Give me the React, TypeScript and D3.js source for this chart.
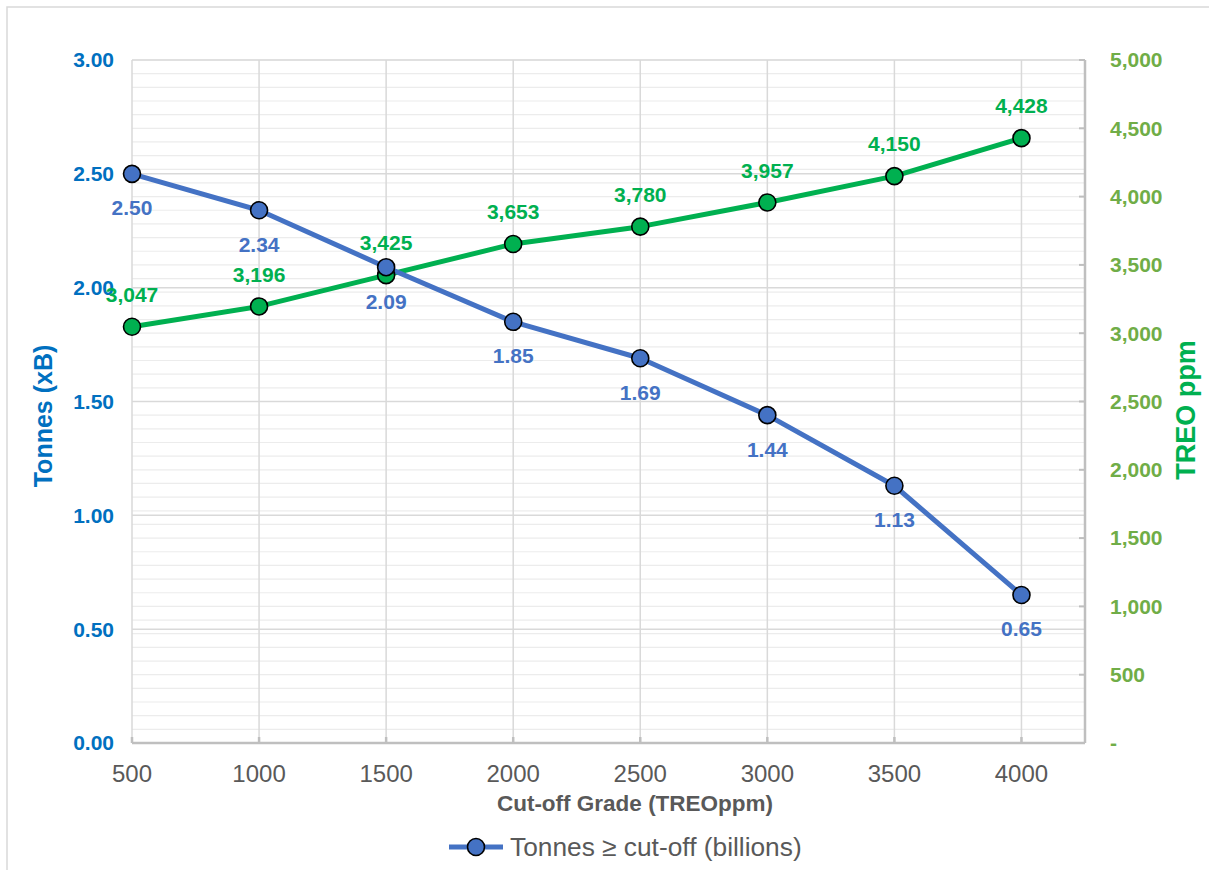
import React from 'react';
import * as d3 from 'd3';

const grades = [500, 1000, 1500, 2000, 2500, 3000, 3500, 4000];
const tonnes = [2.5, 2.34, 2.09, 1.85, 1.69, 1.44, 1.13, 0.65];
const treo = [3047, 3196, 3425, 3653, 3780, 3957, 4150, 4428];
const leftTicks = [0, 0.5, 1, 1.5, 2, 2.5, 3];
const rightTicks = [0, 500, 1000, 1500, 2000, 2500, 3000, 3500, 4000, 4500, 5000];

const W = 1209;
const H = 870;
const blue = '#4472C4';
const green = '#00B050';
const axisBlue = '#0070C0';
const axisGreen = '#70AD47';
const gray = '#595959';
const font = 'Arial, "Liberation Sans", sans-serif';

const App: React.FC = () => {
  const x = d3.scaleLinear().domain([500, 4250]).range([132, 1085]);
  const yL = d3.scaleLinear().domain([0, 3]).range([743, 60]);
  const yR = d3.scaleLinear().domain([0, 5000]).range([743, 60]);
  const minor = d3.range(0, 5001, 100);

  const lineL = d3.line<number>().x((_, i) => x(grades[i])).y(d => yL(d));
  const lineR = d3.line<number>().x((_, i) => x(grades[i])).y(d => yR(d));
  const fmtR = (v: number) => (v === 0 ? '-' : d3.format(',')(v));

  return (
    <svg width={W} height={H} style={{ position: 'absolute', left: 0, top: 0, background: '#fff' }} fontFamily={font}>
      <rect x={7} y={7} width={W + 10} height={H + 10} fill="#fff" stroke="#d9d9d9" strokeWidth={1.5} />

      {/* minor gridlines (right axis, every 100) */}
      {minor.map(v => (
        <line key={'m' + v} x1={132} x2={1085} y1={yR(v)} y2={yR(v)} stroke="#ececec" strokeWidth={1.2} />
      ))}
      {/* major horizontal gridlines (left axis) */}
      {leftTicks.map(v => (
        <line key={'h' + v} x1={132} x2={1085} y1={yL(v)} y2={yL(v)} stroke="#d9d9d9" strokeWidth={1.5} />
      ))}
      {/* vertical gridlines */}
      {grades.map(g => (
        <line key={'v' + g} x1={x(g)} x2={x(g)} y1={60} y2={743} stroke="#d9d9d9" strokeWidth={1.5} />
      ))}

      {/* bottom axis */}
      <line x1={132} x2={1085} y1={743} y2={743} stroke="#bfbfbf" strokeWidth={2.5} />
      {grades.map(g => (
        <line key={'bt' + g} x1={x(g)} x2={x(g)} y1={737} y2={743} stroke="#bfbfbf" strokeWidth={2.5} />
      ))}
      {/* right axis */}
      <line x1={1085} x2={1085} y1={60} y2={743} stroke="#bfbfbf" strokeWidth={2.5} />
      {rightTicks.map(v => (
        <line key={'rt' + v} x1={1079} x2={1085} y1={yR(v)} y2={yR(v)} stroke="#bfbfbf" strokeWidth={2} />
      ))}

      {/* left tick labels */}
      {leftTicks.map(v => (
        <text key={'lt' + v} x={114} y={yL(v)} dy="0.35em" textAnchor="end" fontSize={21} fontWeight="bold" fill={axisBlue}>
          {v.toFixed(2)}
        </text>
      ))}
      {/* right tick labels */}
      {rightTicks.map(v => (
        <text key={'rl' + v} x={1110} y={yR(v)} dy="0.35em" textAnchor="start" fontSize={21} fontWeight="bold" fill={axisGreen}>
          {fmtR(v)}
        </text>
      ))}
      {/* x tick labels */}
      {grades.map(g => (
        <text key={'xl' + g} x={x(g)} y={782} textAnchor="middle" fontSize={24} fill={gray}>
          {g}
        </text>
      ))}

      {/* axis titles */}
      <text x={635} y={811} textAnchor="middle" fontSize={22.5} fontWeight="bold" fill={gray}>
        Cut-off Grade (TREOppm)
      </text>
      <text transform="translate(52,416) rotate(-90)" textAnchor="middle" fontSize={25} fontWeight="bold" fill={axisBlue}>
        Tonnes (xB)
      </text>
      <text transform="translate(1195,410) rotate(-90)" textAnchor="middle" fontSize={27} fontWeight="bold" fill={green}>
        TREO ppm
      </text>

      {/* series */}
      <path d={lineR(treo) || ''} fill="none" stroke={green} strokeWidth={5} strokeLinejoin="round" />
      <path d={lineL(tonnes) || ''} fill="none" stroke={blue} strokeWidth={5} strokeLinejoin="round" />
      {treo.map((v, i) => (
        <circle key={'gc' + i} cx={x(grades[i])} cy={yR(v)} r={8.5} fill={green} stroke="#000" strokeWidth={1.6} />
      ))}
      {tonnes.map((v, i) => (
        <circle key={'bc' + i} cx={x(grades[i])} cy={yL(v)} r={8.5} fill={blue} stroke="#000" strokeWidth={1.6} />
      ))}

      {/* data labels */}
      {treo.map((v, i) => (
        <text key={'gl' + i} x={x(grades[i])} y={yR(v) - 32} dy="0.35em" textAnchor="middle" fontSize={21} fontWeight="bold" fill={green}>
          {d3.format(',')(v)}
        </text>
      ))}
      {tonnes.map((v, i) => (
        <text key={'bl' + i} x={x(grades[i])} y={yL(v) + 34} dy="0.35em" textAnchor="middle" fontSize={21} fontWeight="bold" fill={blue}>
          {v.toFixed(2)}
        </text>
      ))}

      {/* legend */}
      <line x1={449} x2={503} y1={847} y2={847} stroke={blue} strokeWidth={5} />
      <circle cx={476} cy={847} r={8.5} fill={blue} stroke="#000" strokeWidth={1.6} />
      <text x={510} y={847} dy="0.35em" fontSize={26.3} fill={gray}>
        Tonnes ≥ cut-off (billions)
      </text>
    </svg>
  );
};

export default App;
